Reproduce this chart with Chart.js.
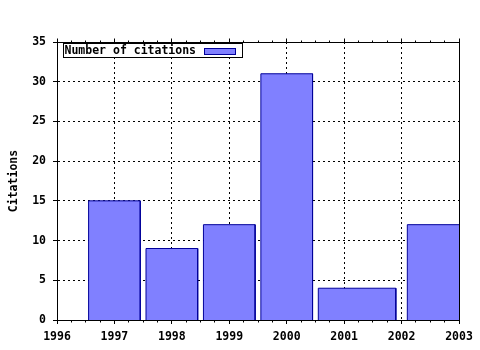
<!DOCTYPE html>
<html>
<head>
<meta charset="utf-8">
<script src="https://cdn.jsdelivr.net/npm/chart.js@4"></script>
<style>
  html, body { margin: 0; padding: 0; background: #ffffff; }
  #wrap { width: 480px; height: 350px; }
</style>
</head>
<body>
<div id="wrap"><canvas id="c" width="480" height="350"></canvas></div>
<script>
// ---- data ----
const years = [1997, 1998, 1999, 2000, 2001, 2003];
const citations = [15, 9, 12, 31, 4, 12];
const seriesLabel = 'Number of citations';
const yAxisTitle = 'Citations';
const xRange = [1996, 2003];
const yRange = [0, 35];

// ---- style ----
const BOX_WIDTH = 0.9;           // relative box width (gnuplot-like auto boxes)
const FILL = '#8080ff';
const EDGE = '#00009a';
const FONT = { family: '"DejaVu Sans Mono", "Liberation Mono", monospace', size: 11.5, weight: 'bold' };
const MINOR_PER_MAJOR = 4;

// build box outlines from the data (each box reaches toward its neighbours)
function boxEdges(i) {
  const n = years.length;
  let dxl = i > 0 ? (years[i - 1] - years[i]) / 2 : null;
  let dxr = i < n - 1 ? (years[i + 1] - years[i]) / 2 : null;
  if (dxl === null) dxl = -dxr;
  if (dxr === null) dxr = -dxl;
  return [years[i] + dxl * BOX_WIDTH, years[i] + dxr * BOX_WIDTH];
}

const datasets = years.map((yr, i) => {
  const [l, r] = boxEdges(i);
  const v = citations[i];
  return {
    label: seriesLabel,
    data: [{ x: l, y: 0 }, { x: l, y: v }, { x: r, y: v }, { x: r, y: 0 }],
    borderColor: EDGE,
    backgroundColor: FILL,
    borderWidth: 1,
    fill: 'origin',
    tension: 0,
    pointRadius: 0,
    pointHitRadius: 0
  };
});

const align = p => Math.round(p - 0.5) + 0.5;

const framePlugin = {
  id: 'frame',
  afterDatasetsDraw(chart) {
    const { ctx, chartArea: a, scales: { x } } = chart;
    ctx.save();
    ctx.strokeStyle = '#000';
    ctx.lineWidth = 1;
    ctx.setLineDash([]);
    const L = align(a.left), R = align(a.right), T = align(a.top), B = align(a.bottom);
    ctx.beginPath();
    ctx.rect(L, T, R - L, B - T);
    ctx.stroke();
    // mirrored ticks on top, minor ticks on top & bottom
    ctx.beginPath();
    const step = 1 / MINOR_PER_MAJOR;
    const count = Math.round((xRange[1] - xRange[0]) / step);
    for (let k = 0; k <= count; k++) {
      const v = xRange[0] + k * step;
      const px = align(x.getPixelForValue(v));
      const major = k % MINOR_PER_MAJOR === 0;
      const len = major ? 4 : 2;
      ctx.moveTo(px, T);
      ctx.lineTo(px, T - len);
      if (!major) {
        ctx.moveTo(px, B);
        ctx.lineTo(px, B + len);
      }
    }
    ctx.stroke();
    ctx.restore();
  },
  afterDraw(chart) {
    // legend box inside the plot, text first, then sample
    const { ctx, chartArea: a } = chart;
    const ds = chart.data.datasets[0];
    ctx.save();
    ctx.font = `${FONT.weight} ${FONT.size}px ${FONT.family}`;
    const textW = ctx.measureText(ds.label).width;
    const bx = align(a.left + 6), by = align(a.top + 1);
    const sampleGap = 8, sampleW = 31, sampleH = 6;
    const bw = Math.round(textW + sampleGap + sampleW + 8);
    const bh = 14;
    ctx.fillStyle = '#fff';
    ctx.fillRect(bx, by, bw, bh);
    ctx.strokeStyle = '#000';
    ctx.lineWidth = 1;
    ctx.strokeRect(bx, by, bw, bh);
    ctx.fillStyle = '#000';
    ctx.textBaseline = 'middle';
    ctx.textAlign = 'left';
    ctx.fillText(ds.label, bx + 1, by + bh / 2 + 0.5);
    const sx = Math.round(bx + 1 + textW + sampleGap) + 0.5;
    const sy = Math.round(by + (bh - sampleH) / 2) + 0.5;
    ctx.fillStyle = ds.backgroundColor;
    ctx.fillRect(sx, sy, sampleW, sampleH);
    ctx.strokeStyle = ds.borderColor;
    ctx.strokeRect(sx, sy, sampleW, sampleH);
    ctx.restore();
  }
};

new Chart(document.getElementById('c'), {
  type: 'line',
  data: { datasets },
  plugins: [framePlugin],
  options: {
    responsive: false,
    animation: false,
    devicePixelRatio: 1,
    layout: { padding: { top: 42, right: 21, left: 0, bottom: 0 } },
    plugins: {
      legend: { display: false },
      tooltip: { enabled: false }
    },
    scales: {
      x: {
        type: 'linear',
        min: xRange[0],
        max: xRange[1],
        afterFit: s => { s.height = 30; },
        ticks: {
          stepSize: 1,
          color: '#000',
          font: FONT,
          padding: 6,
          maxRotation: 0,
          callback: v => String(v)
        },
        grid: {
          color: '#000',
          lineWidth: 1,
          tickLength: 4,
          tickColor: '#000',
          tickBorderDash: []
        },
        border: { display: true, color: '#000', dash: [2, 3] }
      },
      y: {
        min: yRange[0],
        max: yRange[1],
        afterFit: s => { s.width = 57; },
        ticks: {
          stepSize: 5,
          color: '#000',
          font: FONT,
          padding: 7
        },
        grid: {
          color: '#000',
          lineWidth: 1,
          tickLength: 4,
          tickColor: '#000',
          tickBorderDash: []
        },
        border: { display: true, color: '#000', dash: [2, 3] },
        title: {
          display: true,
          text: yAxisTitle,
          color: '#000',
          font: FONT,
          padding: { top: 7, bottom: 0 }
        }
      }
    }
  }
});
</script>
</body>
</html>
